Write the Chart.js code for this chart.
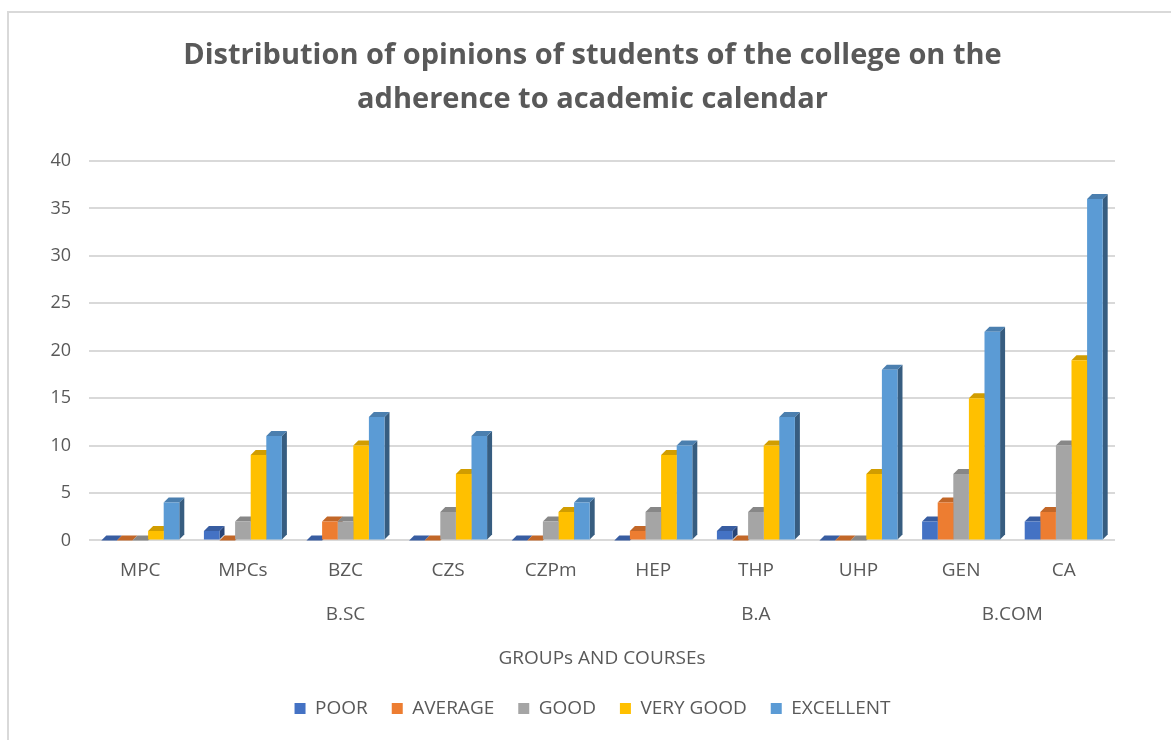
<!DOCTYPE html>
<html>
<head>
  <meta charset="utf-8">
  <title>Distribution of opinions of students</title>
  <style>
    html, body { margin: 0; padding: 0; background: #fff; }
    #wrap { position: relative; width: 1171px; height: 740px; }
  </style>
</head>
<body>

<div id="wrap">
  <canvas id="chart" width="1171" height="740"></canvas>
</div>

<script src="https://cdn.jsdelivr.net/npm/chart.js@4.4.1/dist/chart.umd.min.js"></script>
<script>

const courses = ['MPC', 'MPCs', 'BZC', 'CZS', 'CZPm', 'HEP', 'THP', 'UHP', 'GEN', 'CA'];

// group name, first course index, last course index
const groups = [
  ['B.SC', 0, 4],
  ['B.A', 5, 7],
  ['B.COM', 8, 9],
];

const poor      = [0, 1, 0, 0, 0, 0, 1, 0, 2, 2];
const average   = [0, 0, 2, 0, 0, 1, 0, 0, 4, 3];
const good      = [0, 2, 2, 3, 2, 3, 3, 0, 7, 10];
const veryGood  = [1, 9, 10, 7, 3, 9, 10, 7, 15, 19];
const excellent = [4, 11, 13, 11, 4, 10, 13, 18, 22, 36];

const yTicks = [0, 5, 10, 15, 20, 25, 30, 35, 40];

const textColor = '#595959';
const font = "'Open Sans', 'DejaVu Sans', sans-serif";

function shade(hex, f) {
  const n = parseInt(hex.slice(1), 16);
  const r = Math.round(((n >> 16) & 255) * f);
  const g = Math.round(((n >> 8) & 255) * f);
  const b = Math.round((n & 255) * f);
  return `rgb(${r},${g},${b})`;
}

// fake 3d: side and top faces, drawn under the front faces
const bars3d = {
  id: 'bars3d',
  beforeDatasetsDraw(chart) {
    const ctx = chart.ctx;
    const d = 5;
    chart.data.datasets.forEach((ds, i) => {
      const meta = chart.getDatasetMeta(i);
      meta.data.forEach(bar => {
        const l = bar.x - bar.width / 2;
        const r = bar.x + bar.width / 2;
        const top = bar.y;
        const base = bar.base;

        ctx.fillStyle = shade(ds.backgroundColor, 0.6);
        ctx.beginPath();
        ctx.moveTo(r, top);
        ctx.lineTo(r + d, top - d);
        ctx.lineTo(r + d, base - d);
        ctx.lineTo(r, base);
        ctx.closePath();
        ctx.fill();

        ctx.fillStyle = shade(ds.backgroundColor, 0.82);
        ctx.beginPath();
        ctx.moveTo(l, top);
        ctx.lineTo(l + d, top - d);
        ctx.lineTo(r + d, top - d);
        ctx.lineTo(r, top);
        ctx.closePath();
        ctx.fill();
      });
    });
  }
};

// second row of x labels (B.SC, B.A, B.COM) and the frame
const extras = {
  id: 'extras',
  afterDraw(chart) {
    const ctx = chart.ctx;
    const x = chart.scales.x;
    ctx.save();
    ctx.fillStyle = textColor;
    ctx.font = `19px ${font}`;
    ctx.textAlign = 'center';
    ctx.textBaseline = 'middle';
    groups.forEach(([name, a, b]) => {
      const cx = (x.getPixelForValue(a) + x.getPixelForValue(b)) / 2;
      ctx.fillText(name, cx, chart.chartArea.bottom + 74);
    });

    ctx.strokeStyle = '#d9d9d9';
    ctx.lineWidth = 2;
    ctx.beginPath();
    ctx.moveTo(8, 740);
    ctx.lineTo(8, 12);
    ctx.lineTo(1171, 12);
    ctx.stroke();
    ctx.restore();
  }
};

new Chart(document.getElementById('chart'), {
  type: 'bar',
  data: {
    labels: courses,
    datasets: [
      { label: 'POOR',      data: poor,      backgroundColor: '#4472C4' },
      { label: 'AVERAGE',   data: average,   backgroundColor: '#ED7D31' },
      { label: 'GOOD',      data: good,      backgroundColor: '#A5A5A5' },
      { label: 'VERY GOOD', data: veryGood,  backgroundColor: '#FFC000' },
      { label: 'EXCELLENT', data: excellent, backgroundColor: '#5B9BD5' },
    ],
  },
  options: {
    responsive: false,
    animation: false,
    events: [],
    datasets: {
      bar: { categoryPercentage: 0.76, barPercentage: 1.0, borderWidth: 0 }
    },
    layout: { padding: { top: 34, left: 20, right: 6, bottom: 12 } },
    plugins: {
      title: {
        display: true,
        text: ['Distribution of opinions of students of the college on the',
               'adherence to academic calendar'],
        color: textColor,
        font: { family: font, size: 29, weight: 'bold', lineHeight: 1.5 },
        padding: { top: 0, bottom: 40 },
      },
      legend: {
        position: 'bottom',
        labels: {
          color: textColor,
          font: { family: font, size: 19 },
          boxWidth: 11,
          boxHeight: 11,
          padding: 24,
        },
      },
      tooltip: { enabled: false },
    },
    scales: {
      x: {
        grid: { display: false },
        border: { display: false },
        ticks: { color: textColor, font: { family: font, size: 19 }, padding: 11 },
        title: {
          display: true,
          text: 'GROUPs AND COURSEs',
          color: textColor,
          font: { family: font, size: 19 },
          padding: { top: 54, bottom: 5 },
        },
      },
      y: {
        min: 0,
        max: 40,
        afterBuildTicks(scale) {
          scale.ticks = yTicks.map(v => ({ value: v }));
        },
        afterFit(scale) { scale.width = 69; },
        grid: { color: '#d9d9d9', lineWidth: 2, drawTicks: false },
        border: { display: false },
        ticks: { color: textColor, font: { family: font, size: 18 }, padding: 18 },
      },
      // empty right margin so the title and legend centre like the original
      yRight: {
        position: 'right',
        min: 0,
        max: 40,
        afterFit(scale) { scale.width = 50; },
        grid: { display: false },
        border: { display: false },
        ticks: { display: false },
      },
    },
  },
  plugins: [bars3d, extras],
});

</script>

</body>
</html>
